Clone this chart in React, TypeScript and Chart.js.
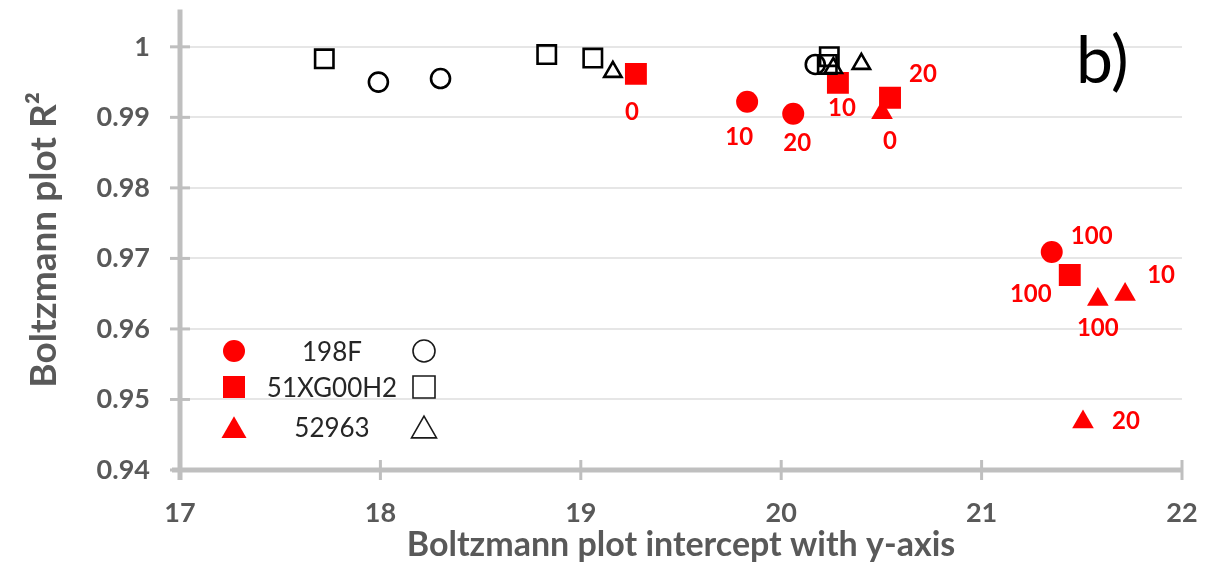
import React, { useEffect, useRef } from 'react';
import { Chart, registerables } from 'chart.js';

Chart.register(...registerables);

// ---------- data ----------
const SERIES_NAMES = ['198F', '51XG00H2', '52963'];

const X_TICKS = [17, 18, 19, 20, 21, 22];
const Y_TICKS = [0.94, 0.95, 0.96, 0.97, 0.98, 0.99, 1];
const Y_TICK_LABELS = ['0.94', '0.95', '0.96', '0.97', '0.98', '0.99', '1'];

const X_TITLE = 'Boltzmann plot intercept with y-axis';
const Y_TITLE = 'Boltzmann plot R²';
const PANEL_LABEL = 'b)';

// open (black) markers
const openCircleX = [17.99, 18.3, 20.17];
const openCircleY = [0.995, 0.9955, 0.9975];
const openSquareX = [17.72, 18.83, 19.06, 20.24, 20.23];
const openSquareY = [0.9983, 0.9989, 0.9984, 0.9986, 0.9975];
const openTriangleX = [19.16, 20.26, 20.4];
const openTriangleY = [0.99645, 0.997, 0.99759];

// filled (red) markers
const redCircleX = [19.83, 20.06, 21.35];
const redCircleY = [0.9922, 0.9905, 0.9709];
const redCircleLabels = ['10', '20', '100'];

const redSquareX = [19.275, 20.283, 20.543, 21.44];
const redSquareY = [0.99617, 0.99489, 0.99277, 0.96766];
const redSquareLabels = ['0', '10', '20', '100'];

const redTriangleX = [20.503, 21.58, 21.716, 21.506];
const redTriangleY = [0.99064, 0.96416, 0.96487, 0.9468];
const redTriangleLabels = ['0', '100', '10', '20'];

// ---------- style ----------
const RED = '#ff0000';
const BLACK = '#000000';
const GREY_TEXT = '#595959';
const AXIS_GREY = '#bfbfbf';
const FONT = 'Lato, "Open Sans", sans-serif';

// label offsets (px) from each red marker to its text centre
const redCircleLabelOffsets = [[-8, 35], [4, 29], [40, -17]];
const redSquareLabelOffsets = [[-4, 38], [4, 25], [33, -24], [-39, 19]];
const redTriangleLabelOffsets = [[8, 28], [0, 28], [36, -20], [43, -2]];

const pts = (xs: number[], ys: number[]) => xs.map((x, i) => ({ x, y: ys[i] }));

function drawMarker(ctx: CanvasRenderingContext2D, shape: string, x: number, y: number, size: number, filled: boolean, color: string, lw: number) {
  ctx.save();
  ctx.beginPath();
  if (shape === 'circle') {
    ctx.arc(x, y, size / 2, 0, Math.PI * 2);
  } else if (shape === 'rect') {
    ctx.rect(x - size / 2, y - size / 2, size, size);
  } else {
    const h = size * 0.87;
    ctx.moveTo(x, y - h / 2);
    ctx.lineTo(x + size / 2, y + h / 2);
    ctx.lineTo(x - size / 2, y + h / 2);
    ctx.closePath();
  }
  if (filled) {
    ctx.fillStyle = color;
    ctx.fill();
  } else {
    ctx.strokeStyle = color;
    ctx.lineWidth = lw;
    ctx.stroke();
  }
  ctx.restore();
}

const axesPlugin = {
  id: 'excelAxes',
  beforeDatasetsDraw(chart: any) {
    const { ctx, chartArea, scales } = chart;
    const xs = scales.x;
    const ys = scales.y;
    ctx.save();
    ctx.strokeStyle = AXIS_GREY;
    ctx.lineWidth = 5;
    ctx.beginPath();
    ctx.moveTo(chartArea.left, chartArea.top);
    ctx.lineTo(chartArea.left, chartArea.bottom + 10);
    ctx.stroke();
    ctx.beginPath();
    ctx.moveTo(chartArea.left - 8, chartArea.bottom);
    ctx.lineTo(chartArea.right, chartArea.bottom);
    ctx.stroke();
    ctx.lineWidth = 3;
    Y_TICKS.forEach((v) => {
      const py = ys.getPixelForValue(v);
      ctx.beginPath();
      ctx.moveTo(chartArea.left - 10, py);
      ctx.lineTo(chartArea.left + 10, py);
      ctx.stroke();
    });
    X_TICKS.forEach((v) => {
      const px = xs.getPixelForValue(v);
      ctx.beginPath();
      ctx.moveTo(px, chartArea.bottom - 10);
      ctx.lineTo(px, chartArea.bottom + 10);
      ctx.stroke();
    });
    ctx.restore();
  },
};

const labelPlugin = {
  id: 'redLabels',
  afterDatasetsDraw(chart: any) {
    const { ctx } = chart;
    ctx.save();
    ctx.fillStyle = RED;
    ctx.font = `bold 24px ${FONT}`;
    ctx.textAlign = 'center';
    ctx.textBaseline = 'alphabetic';
    chart.data.datasets.forEach((ds: any, di: number) => {
      if (!ds.pointLabels) return;
      const meta = chart.getDatasetMeta(di);
      meta.data.forEach((el: any, i: number) => {
        const [dx, dy] = ds.labelOffsets[i];
        ctx.fillText(ds.pointLabels[i], el.x + dx, el.y + dy + 8.5);
      });
    });
    ctx.restore();
  },
};

const legendPlugin = {
  id: 'insideLegend',
  afterDraw(chart: any) {
    const { ctx, chartArea } = chart;
    const shapes = ['circle', 'rect', 'triangle'];
    const rowY = [351, 387, 427];
    const left = chartArea.left;
    ctx.save();
    shapes.forEach((shape, i) => {
      const y = rowY[i];
      drawMarker(ctx, shape, left + 54, y, shape === 'triangle' ? 25 : 22, true, RED, 0);
      drawMarker(ctx, shape, left + 244, y, shape === 'triangle' ? 25 : 22, false, '#1a1a1a', 1.6);
      ctx.fillStyle = '#262626';
      ctx.font = `26px ${FONT}`;
      ctx.textAlign = 'center';
      ctx.textBaseline = 'alphabetic';
      ctx.fillText(SERIES_NAMES[i], left + 152, y + 10);
    });
    ctx.fillStyle = '#000';
    ctx.font = `66px ${FONT}`;
    ctx.textAlign = 'left';
    ctx.fillText(PANEL_LABEL, 1076, 83);
    ctx.restore();
  },
};

export default function App() {
  const ref = useRef<HTMLCanvasElement | null>(null);

  useEffect(() => {
    if (!ref.current) return;
    const openStyle = (shape: string, r: number) => ({
      pointStyle: shape,
      pointRadius: r,
      pointHoverRadius: r,
      pointBackgroundColor: 'rgba(0,0,0,0)',
      pointBorderColor: BLACK,
      pointBorderWidth: 2.6,
      showLine: false,
    });
    const redStyle = (shape: string, r: number) => ({
      pointStyle: shape,
      pointRadius: r,
      pointHoverRadius: r,
      pointBackgroundColor: RED,
      pointBorderColor: RED,
      pointBorderWidth: 0,
      showLine: false,
    });

    const chart = new Chart(ref.current, {
      type: 'scatter',
      data: {
        datasets: [
          { label: SERIES_NAMES[1] + ' open', data: pts(openSquareX, openSquareY), ...openStyle('rect', 13) },
          { label: SERIES_NAMES[2] + ' open', data: pts(openTriangleX, openTriangleY), ...openStyle('triangle', 10) },
          { label: SERIES_NAMES[0] + ' open', data: pts(openCircleX, openCircleY), ...openStyle('circle', 9.5) },
          { label: SERIES_NAMES[1], data: pts(redSquareX, redSquareY), ...redStyle('rect', 15.5), pointLabels: redSquareLabels, labelOffsets: redSquareLabelOffsets } as any,
          { label: SERIES_NAMES[2], data: pts(redTriangleX, redTriangleY), ...redStyle('triangle', 12.5), pointLabels: redTriangleLabels, labelOffsets: redTriangleLabelOffsets } as any,
          { label: SERIES_NAMES[0], data: pts(redCircleX, redCircleY), ...redStyle('circle', 11), pointLabels: redCircleLabels, labelOffsets: redCircleLabelOffsets } as any,
        ],
      },
      options: {
        animation: false,
        responsive: false,
        devicePixelRatio: 1,
        layout: { autoPadding: false, padding: { top: 0, right: 35, left: 0, bottom: 0 } },
        plugins: {
          legend: { display: false },
          tooltip: { enabled: false },
        },
        scales: {
          x: {
            type: 'linear',
            min: 17,
            max: 22,
            afterBuildTicks: (s: any) => {
              s.ticks = X_TICKS.map((v) => ({ value: v }));
            },
            afterFit: (s: any) => {
              s.height = 96;
            },
            grid: { display: false, drawTicks: true, tickLength: 27 },
            border: { display: false },
            ticks: {
              padding: 0,
              color: GREY_TEXT,
              autoSkip: false,
              maxRotation: 0,
              font: { family: FONT, size: 27, weight: 'bold' },
              callback: (v: any) => String(v),
            },
            title: {
              display: true,
              text: X_TITLE,
              color: GREY_TEXT,
              font: { family: FONT, size: 34, weight: 'bold' },
              padding: { top: 0, bottom: 1 },
            },
          },
          y: {
            type: 'linear',
            min: 0.94,
            max: 1.0053,
            afterBuildTicks: (s: any) => {
              s.ticks = Y_TICKS.map((v) => ({ value: v }));
            },
            afterFit: (s: any) => {
              s.width = 180;
            },
            grid: { color: '#e6e6e6', lineWidth: 2, drawTicks: true, tickLength: 30, tickColor: 'rgba(0,0,0,0)' },
            border: { display: false },
            ticks: {
              padding: 0,
              color: GREY_TEXT,
              autoSkip: false,
              font: { family: FONT, size: 27, weight: 'bold', lineHeight: 0.7 },
              callback: (_v: any, i: number) => Y_TICK_LABELS[i],
            },
            title: {
              display: true,
              text: Y_TITLE,
              color: GREY_TEXT,
              font: { family: FONT, size: 37, weight: 'bold' },
              padding: { top: 22, bottom: 0 },
            },
          },
        },
      },
      plugins: [axesPlugin, labelPlugin, legendPlugin],
    } as any);
    return () => chart.destroy();
  }, []);

  return (
    <div style={{ position: 'absolute', left: 0, top: 0, width: 1217, height: 566, background: '#fff' }}>
      <canvas ref={ref} width={1217} height={566} style={{ width: 1217, height: 566 }} />
    </div>
  );
}
